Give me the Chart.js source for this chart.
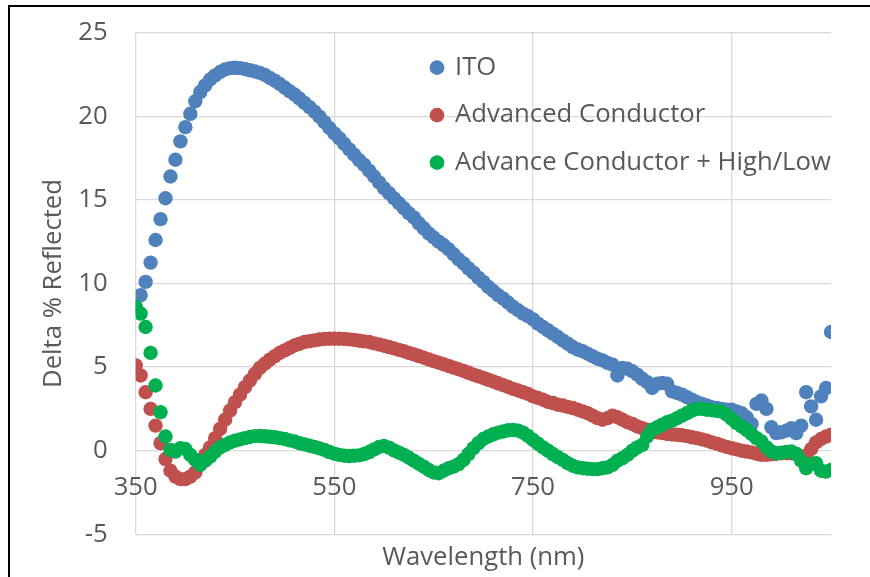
<!DOCTYPE html>
<html lang="en">
<head>
    <meta charset="UTF-8">
    <title>Delta % Reflected vs Wavelength</title>
    <script src="https://cdn.jsdelivr.net/npm/chart.js"></script>
    <style>
        body {
            margin: 0;
            padding: 0;
            background: #fff;
            overflow: hidden;
        }

        .frame {
            position: absolute;
            left: 8px;
            top: 5px;
            width: 900px;
            height: 600px;
            border-left: 2px solid #000;
            border-top: 2px solid #000;
        }

        #chart {
            position: absolute;
            left: 0;
            top: 0;
        }
    </style>
</head>
<body>
    <div class="frame"></div>
    <canvas id="chart" width="870" height="577"></canvas>

    <script>
        // wavelength (nm), every 5 nm
        const wavelengths = [
            350, 355, 360, 365, 370, 375, 380, 385, 390, 395,
            400, 405, 410, 415, 420, 425, 430, 435, 440, 445,
            450, 455, 460, 465, 470, 475, 480, 485, 490, 495,
            500, 505, 510, 515, 520, 525, 530, 535, 540, 545,
            550, 555, 560, 565, 570, 575, 580, 585, 590, 595,
            600, 605, 610, 615, 620, 625, 630, 635, 640, 645,
            650, 655, 660, 665, 670, 675, 680, 685, 690, 695,
            700, 705, 710, 715, 720, 725, 730, 735, 740, 745,
            750, 755, 760, 765, 770, 775, 780, 785, 790, 795,
            800, 805, 810, 815, 820, 825, 830, 835, 840, 845,
            850, 855, 860, 865, 870, 875, 880, 885, 890, 895,
            900, 905, 910, 915, 920, 925, 930, 935, 940, 945,
            950, 955, 960, 965, 970, 975, 980, 985, 990, 995,
            1000, 1005, 1010, 1015, 1020, 1025, 1030, 1035, 1040, 1045,
            1050
        ];

        const ito = [
            8.6, 9.3, 10.1, 11.25, 12.6, 13.85, 15.1, 16.4, 17.4, 18.5,
            19.35, 20.15, 20.9, 21.45, 21.85, 22.2, 22.45, 22.65, 22.8, 22.88,
            22.9, 22.88, 22.83, 22.75, 22.68, 22.6, 22.48, 22.3, 22.13, 21.93,
            21.72, 21.5, 21.3, 21.05, 20.8, 20.55, 20.28, 19.98, 19.65, 19.3,
            18.98, 18.68, 18.35, 18.02, 17.7, 17.38, 17.1, 16.75, 16.4, 16.05,
            15.7, 15.4, 15.1, 14.8, 14.5, 14.2, 13.95, 13.6, 13.3, 13.0,
            12.75, 12.5, 12.3, 12.05, 11.75, 11.45, 11.2, 10.9, 10.65, 10.35,
            10.1, 9.8, 9.55, 9.3, 9.1, 8.85, 8.6, 8.4, 8.2, 8.05,
            7.85, 7.6, 7.4, 7.2, 7.0, 6.8, 6.6, 6.4, 6.2, 6.05,
            5.95, 5.8, 5.65, 5.5, 5.4, 5.25, 5.15, 4.5, 4.95, 4.9,
            4.75, 4.55, 4.3, 4.1, 3.75, 4.0, 4.05, 4.0, 3.55, 3.45,
            3.35, 3.2, 3.05, 2.9, 2.8, 2.7, 2.6, 2.55, 2.5, 2.45,
            2.45, 2.35, 2.25, 2.0, 1.6, 2.8, 3.0, 2.5, 1.4, 1.05,
            1.1, 1.2, 1.35, 1.05, 1.5, 3.5, 2.65, 1.85, 3.25, 3.75,
            7.1
        ];

        const advancedConductor = [
            5.1, 4.5, 3.5, 2.5, 1.5, 0.45, -0.5, -1.2, -1.55, -1.7,
            -1.7, -1.55, -1.3, -0.75, -0.25, 0.2, 0.75, 1.3, 1.85, 2.4,
            2.9, 3.35, 3.8, 4.2, 4.6, 4.95, 5.2, 5.45, 5.65, 5.85,
            6.0, 6.15, 6.3, 6.4, 6.5, 6.55, 6.6, 6.65, 6.68, 6.7,
            6.7, 6.7, 6.68, 6.66, 6.63, 6.58, 6.54, 6.5, 6.42, 6.35,
            6.28, 6.2, 6.12, 6.03, 5.95, 5.85, 5.76, 5.66, 5.56, 5.46,
            5.36, 5.27, 5.17, 5.07, 4.97, 4.87, 4.77, 4.66, 4.55, 4.45,
            4.35, 4.24, 4.14, 4.03, 3.92, 3.81, 3.7, 3.6, 3.5, 3.4,
            3.25, 3.15, 3.05, 2.92, 2.85, 2.75, 2.7, 2.62, 2.55, 2.45,
            2.35, 2.25, 2.1, 1.95, 1.85, 1.95, 2.1, 2.0, 1.85, 1.7,
            1.6, 1.45, 1.35, 1.25, 1.2, 1.1, 1.05, 1.0, 0.97, 0.95,
            0.92, 0.87, 0.8, 0.75, 0.68, 0.6, 0.5, 0.42, 0.32, 0.22,
            0.15, 0.08, 0.0, -0.05, -0.1, -0.18, -0.25, -0.25, -0.22, -0.18,
            -0.15, -0.15, -0.15, -0.2, -0.35, -0.3, 0.1, 0.5, 0.7, 0.85,
            0.95
        ];

        const advanceHighLow = [
            8.6, 8.2, 7.4, 5.85, 3.9, 2.3, 0.85, 0.05, -0.05, 0.15,
            0.1, -0.25, -0.55, -0.85, -0.6, -0.35, -0.05, 0.2, 0.35, 0.5,
            0.6, 0.68, 0.75, 0.82, 0.87, 0.88, 0.86, 0.83, 0.8, 0.75,
            0.7, 0.62, 0.55, 0.45, 0.38, 0.3, 0.22, 0.14, 0.05, -0.08,
            -0.18, -0.25, -0.3, -0.32, -0.3, -0.28, -0.2, -0.08, 0.08, 0.22,
            0.28, 0.18, 0.02, -0.12, -0.25, -0.42, -0.6, -0.78, -0.95, -1.15,
            -1.3, -1.35, -1.2, -1.05, -0.95, -0.8, -0.55, -0.2, 0.15, 0.45,
            0.7, 0.85, 0.98, 1.08, 1.15, 1.22, 1.24, 1.2, 1.08, 0.88,
            0.65, 0.42, 0.2, 0.0, -0.2, -0.38, -0.55, -0.75, -0.9, -1.0,
            -1.05, -1.08, -1.1, -1.1, -1.05, -1.0, -0.85, -0.6, -0.45, -0.25,
            0.0, 0.2, 0.35, 0.85, 1.25, 1.4, 1.55, 1.7, 1.8, 1.95,
            2.1, 2.25, 2.4, 2.5, 2.5, 2.45, 2.42, 2.38, 2.33, 2.15,
            1.9, 1.65, 1.45, 1.25, 1.0, 0.75, 0.55, 0.2, -0.05, -0.15,
            -0.12, -0.08, -0.05, -0.2, -0.6, -1.05, -0.8, -0.75, -1.2, -1.25,
            -1.15
        ];

        const xTicks = [350, 550, 750, 950];

        const textFont = { family: 'Open Sans', size: 25.7 };
        const textColor = '#595959';
        const gridColor = '#d9d9d9';

        function points(values) {
            return wavelengths.map((w, i) => ({ x: w, y: values[i] }));
        }

        function series(label, values, color) {
            return {
                label: label,
                data: points(values),
                backgroundColor: color,
                borderColor: color,
                borderWidth: 0,
                pointRadius: 7.2,
                pointHoverRadius: 7.2
            };
        }

        // legend sits inside the plot, top right
        const legendSpot = {
            id: 'legendSpot',
            afterLayout(chart) {
                const lg = chart.legend;
                lg.left = 410;
                lg.top = 33;
                lg.right = 831;
                lg.bottom = 300;
            }
        };

        const ctx = document.getElementById('chart').getContext('2d');
        new Chart(ctx, {
            type: 'scatter',
            data: {
                // reversed so green is drawn on top, legend reversed back
                datasets: [
                    series('Advance Conductor + High/Low', advanceHighLow, '#00b050'),
                    series('Advanced Conductor', advancedConductor, '#c0504d'),
                    series('ITO', ito, '#4f81bd')
                ]
            },
            options: {
                responsive: false,
                devicePixelRatio: 1,
                animation: false,
                events: [],
                layout: {
                    padding: { top: 32.7, right: 39, bottom: 0, left: 0 }
                },
                scales: {
                    x: {
                        type: 'linear',
                        position: { y: 0 },
                        min: 350,
                        max: 1050,
                        afterBuildTicks: (scale) => {
                            scale.ticks = xTicks.map(v => ({ value: v }));
                        },
                        grid: { color: gridColor, lineWidth: 1.3, drawTicks: false },
                        border: { display: false },
                        ticks: {
                            font: textFont,
                            color: textColor,
                            padding: 22,
                            maxRotation: 0,
                            autoSkip: false
                        }
                    },
                    x2: {
                        type: 'linear',
                        position: 'bottom',
                        min: 350,
                        max: 1050,
                        grid: { display: false },
                        border: { display: false },
                        ticks: { display: false },
                        title: {
                            display: true,
                            text: 'Wavelength (nm)',
                            font: textFont,
                            color: textColor,
                            padding: { top: 0, bottom: 3.6 }
                        },
                        afterFit: (scale) => { scale.height = 42.7; }
                    },
                    y: {
                        min: -5,
                        max: 25,
                        grid: {
                            color: gridColor,
                            lineWidth: 1.3,
                            drawTicks: true,
                            tickLength: 24,
                            tickColor: 'rgba(0,0,0,0)'
                        },
                        border: { display: false },
                        ticks: {
                            stepSize: 5,
                            font: textFont,
                            color: textColor,
                            padding: 4
                        },
                        title: {
                            display: true,
                            text: 'Delta % Reflected',
                            font: textFont,
                            color: textColor,
                            padding: { top: 38, bottom: 0 }
                        },
                        afterFit: (scale) => { scale.width = 135.7; }
                    }
                },
                plugins: {
                    legend: {
                        position: 'chartArea',
                        align: 'start',
                        reverse: true,
                        labels: {
                            usePointStyle: true,
                            pointStyle: 'circle',
                            boxWidth: 10.4,
                            boxHeight: 10.4,
                            padding: 21.8,
                            font: textFont,
                            color: textColor
                        }
                    },
                    tooltip: { enabled: false }
                }
            },
            plugins: [legendSpot]
        });
    </script>
</body>
</html>
